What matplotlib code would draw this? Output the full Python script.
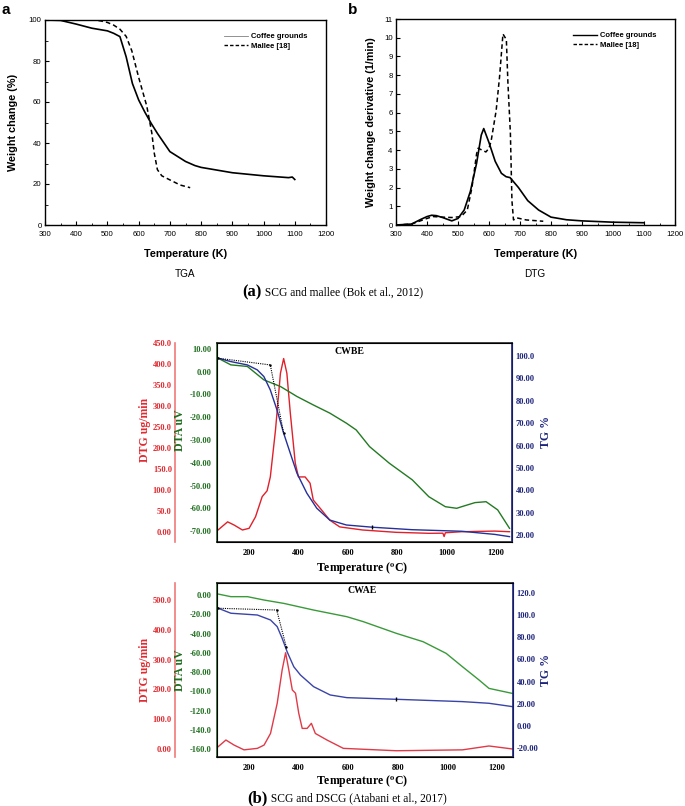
import numpy as np
import matplotlib.pyplot as plt
from matplotlib.lines import Line2D

W, H = 685, 806

# ---- (a) Bok et al. 2012 : TGA / DTG ----
tga_cg_T = [300, 350, 400, 450, 500, 520, 540, 560, 580, 600, 620, 640, 660, 700, 750, 780, 800, 900, 1000, 1080, 1092, 1100]
tga_cg_w = [100, 99.8, 98, 96, 94.7, 93.5, 91.9, 82, 69, 61, 55, 49.6, 44.7, 35.8, 31, 29, 28.1, 25.5, 24, 23.1, 23.4, 22.2]
tga_ml_T = [300, 400, 460, 480, 500, 520, 540, 560, 578, 600, 626, 642, 650, 660, 674, 700, 733, 765]
tga_ml_w = [100, 100, 100, 99.5, 98.8, 97.5, 95.5, 92, 85, 72, 58, 45, 35, 27, 24, 22, 19.5, 18.2]

dtg_cg_T = [300, 350, 380, 400, 415, 430, 450, 480, 500, 520, 540, 560, 575, 583, 600, 620, 640, 655, 668, 695, 725, 760, 800, 850, 900, 1000, 1100]
dtg_cg_d = [0, 0.05, 0.3, 0.45, 0.52, 0.5, 0.4, 0.22, 0.35, 0.8, 1.8, 3.3, 4.8, 5.15, 4.4, 3.4, 2.76, 2.58, 2.53, 2.0, 1.3, 0.8, 0.42, 0.28, 0.22, 0.15, 0.12]
dtg_ml_T = [300, 350, 400, 420, 450, 480, 510, 530, 545, 560, 565, 590, 600, 607, 623, 634, 645, 656, 661, 669, 674, 679, 690, 720, 775]
dtg_ml_d = [0, 0.05, 0.35, 0.45, 0.42, 0.4, 0.45, 0.8, 2.0, 3.8, 4.1, 3.9, 4.1, 4.5, 6.1, 7.9, 10.2, 9.9, 7.6, 4.9, 1.3, 0.27, 0.38, 0.27, 0.2]

# ---- (b) Atabani et al. 2017 : CWBE ----
cwbe_T_dtg = [75, 113, 139, 173, 200, 226, 253, 273, 286, 307, 327, 340, 353, 367, 387, 400, 427, 447, 460, 494, 527, 567, 660, 794, 928, 985, 990, 995, 1061, 1195, 1255]
cwbe_dtg = [5, 24, 16.5, 4.6, 8.6, 36, 84, 98, 131, 243, 378, 413, 378, 283, 164, 131, 131, 116, 76, 52, 28, 12, 4.6, -0.9, -3.3, -3, -11, -2, 0.5, 2, 0.5]
cwbe_T_dta = [75, 126, 193, 260, 327, 394, 460, 527, 594, 634, 688, 768, 861, 928, 995, 1041, 1061, 1115, 1160, 1207, 1255]
cwbe_dta = [5.9, 3.0, 2.3, -3.6, -6.5, -10.9, -14.6, -18.2, -22.6, -25.6, -32.9, -40.2, -47.5, -54.9, -59.3, -60.0, -59.3, -57.5, -57.1, -60.7, -68.8]
cwbe_T_tg = [75, 126, 193, 233, 260, 286, 313, 340, 367, 394, 434, 474, 527, 594, 700, 860, 1061, 1195, 1255]
cwbe_tg = [99.0, 97.5, 96, 93.8, 90.8, 84.8, 75.9, 65.5, 56.5, 47.6, 38.7, 32, 26.7, 24.5, 23.5, 22.4, 21.7, 20.3, 19.3]
cwbe_on_T = [75, 286, 340]
cwbe_on_tg = [99.0, 96, 65.5]

# ---- (b) CWAE ----
cwae_T_dtg = [75, 106, 139, 179, 233, 260, 286, 313, 333, 347, 360, 374, 387, 400, 414, 434, 451, 467, 514, 580, 794, 1061, 1168, 1262]
cwae_dtg = [7.8, 30, 13, -3, 2, 13, 52, 153, 265, 323, 265, 198, 187, 120, 69, 69, 86, 52, 30, 2, -6, -3, 10, 0]
cwae_T_dta = [75, 126, 193, 260, 340, 460, 594, 661, 794, 902, 995, 1061, 1128, 1168, 1262]
cwae_dta = [1, -1.7, -1.7, -5.2, -8.7, -15.6, -22.5, -27.7, -39.8, -48.5, -60.6, -74.5, -88.3, -97, -102.2]
cwae_T_tg = [75, 126, 233, 286, 313, 333, 353, 380, 407, 460, 527, 594, 794, 1061, 1168, 1262]
cwae_tg = [106.2, 101.7, 100.1, 95.6, 89.6, 79.1, 67.0, 53.4, 45.9, 35.4, 27.9, 25.5, 24.0, 21.9, 20.4, 17.4]
cwae_on_T = [75, 311, 350]
cwae_on_tg = [106.2, 104.6, 71]

temp_ticks = [200, 400, 600, 800, 1000, 1200]

RED, RED_SP = "#e02a30", "#f07a7a"
GREEN = "#1f6e1f"
BLUE = "#1c237a"

plt.rcParams["mathtext.fontset"] = "stix"


def box(l, t, r, b):
    return [l / W, 1 - b / H, (r - l) / W, (b - t) / H]


fig = plt.figure(figsize=(W / 100, H / 100), dpi=100)
SANS = "Liberation Sans"
SERIF = "Liberation Serif"


def style_top(ax):
    for s in ax.spines.values():
        s.set_linewidth(1.0)
    ax.tick_params(direction="in", length=3, width=0.8, labelsize=5.6, pad=2.5)
    ax.tick_params(axis="x", pad=4)
    ax.tick_params(which="minor", direction="in", length=1.8, width=0.6)
    for lab in ax.get_xticklabels() + ax.get_yticklabels():
        lab.set_family(SANS)


# TGA
axa = fig.add_axes(box(45, 20, 326, 225))
axa.plot(tga_cg_T, tga_cg_w, color="black", lw=1.2)
axa.plot(tga_ml_T, tga_ml_w, color="black", lw=1.1, dashes=(3, 2))
axa.set_xlim(300, 1200)
axa.set_ylim(0, 100)
axa.set_xticks(range(300, 1201, 100))
axa.set_xticks(range(350, 1200, 100), minor=True)
axa.set_yticks(range(0, 101, 20))
axa.set_yticks(range(10, 100, 20), minor=True)
style_top(axa)
axa.set_xlabel("Temperature (K)", family=SANS, weight="bold", fontsize=7.8, labelpad=8)
axa.set_ylabel("Weight change (%)", family=SANS, weight="bold", fontsize=7.8, labelpad=8)
ha = [Line2D([], [], color="gray", lw=0.6), Line2D([], [], color="black", lw=1.0, dashes=(2.5, 1.5))]
axa.legend(ha, ["Coffee grounds", "Mallee [18]"], frameon=False, loc="upper right",
           bbox_to_anchor=(0.96, 0.97), prop={"family": SANS, "size": 5.5, "weight": "bold"},
           handlelength=3.2, handletextpad=0.4, labelspacing=0.3)

# DTG
axb = fig.add_axes(box(396, 19, 675, 225))
axb.plot(dtg_cg_T, dtg_cg_d, color="black", lw=1.2)
axb.plot(dtg_ml_T, dtg_ml_d, color="black", lw=1.1, dashes=(3, 2))
axb.set_xlim(300, 1200)
axb.set_ylim(0, 11)
axb.set_xticks(range(300, 1201, 100))
axb.set_xticks(range(350, 1200, 100), minor=True)
axb.set_yticks(range(0, 12))
style_top(axb)
axb.set_xlabel("Temperature (K)", family=SANS, weight="bold", fontsize=7.8, labelpad=8)
axb.set_ylabel("Weight change derivative (1/min)", family=SANS, weight="bold", fontsize=7.8, labelpad=6)
hb = [Line2D([], [], color="black", lw=1.0), Line2D([], [], color="black", lw=1.0, dashes=(2.5, 1.5))]
axb.legend(hb, ["Coffee grounds", "Mallee [18]"], frameon=False, loc="upper right",
           bbox_to_anchor=(0.96, 0.97), prop={"family": SANS, "size": 5.5, "weight": "bold"},
           handlelength=3.2, handletextpad=0.4, labelspacing=0.3)

fig.text(2 / W, 1 - 10 / H, "a", family=SANS, weight="bold", fontsize=11, va="center")
fig.text(348 / W, 1 - 10 / H, "b", family=SANS, weight="bold", fontsize=11, va="center")
fig.text(185 / W, 1 - 274 / H, "TGA", family=SANS, fontsize=7.2, ha="center", va="center")
fig.text(535 / W, 1 - 274 / H, "DTG", family=SANS, fontsize=7.2, ha="center", va="center")


def caption(xc, y, tag, rest):
    fig.text(xc / W, 1 - y / H, tag, family=SERIF, weight="bold", fontsize=12,
             ha="right", va="center")
    fig.text(xc / W, 1 - y / H, " " + rest, family=SERIF, fontsize=8.3, ha="left", va="center")


caption(262, 292, "(a)", "SCG and mallee (Bok et al., 2012)")


def tri_panel(rect, T_dtg, dtg, T_dta, dta, T_tg, tg, on_T, on_tg, mark, lims, ticks, title, title_x, cols):
    ax = fig.add_axes(rect)
    ax.set_xlim(70, 1265)
    ax.set_zorder(1)
    ax.patch.set_visible(False)
    axr = ax.twinx()
    axd = ax.twinx()
    axd.set_zorder(0)
    # DTA (green, main left)
    ax.plot(T_dta, dta, color=cols[1], lw=1.0)
    ax.set_ylim(*lims[1])
    ax.set_yticks(ticks[1])
    ax.set_yticklabels([("%.2f" % v) if abs(v) < 100 else ("%.1f" % v) for v in ticks[1]])
    # TG (blue, right)
    axr.plot(T_tg, tg, color=cols[2], lw=1.0)
    axr.plot(on_T, on_tg, color="black", lw=0.8, ls=(0, (1, 1)), marker=".", ms=1.5)
    axr.plot([mark[0]], [mark[1]], color="black", marker="|", ms=3, mew=1)
    axr.set_ylim(*lims[2])
    axr.set_yticks(ticks[2])
    axr.set_yticklabels([("%.2f" % v) if abs(v) < 100 else ("%.1f" % v) for v in ticks[2]])
    # DTG (red, outer left)
    axd.plot(T_dtg, dtg, color=cols[0], lw=1.0)
    axd.set_ylim(*lims[0])
    axd.set_yticks(ticks[0])
    axd.set_yticklabels([("%.2f" % v) if v == 0 else ("%.1f" % v) for v in ticks[0]])
    axd.yaxis.set_ticks_position("left")
    axd.spines["left"].set_position(("outward", 30))
    axd.spines["left"].set_color(RED_SP)
    axd.spines["left"].set_linewidth(1.2)
    for s in ("right", "top", "bottom"):
        axd.spines[s].set_visible(False)
    axd.tick_params(axis="y", length=0, pad=2.5, labelsize=6, labelcolor=RED)

    ax.spines["left"].set_color(GREEN)
    ax.spines["left"].set_linewidth(1.2)
    axr.spines["right"].set_color(BLUE)
    axr.spines["right"].set_linewidth(1.2)
    for s in ("top", "bottom"):
        ax.spines[s].set_linewidth(1.2)
        ax.spines[s].set_color("#222222")
    ax.tick_params(axis="y", length=0, pad=4, labelsize=6, labelcolor=GREEN)
    axr.tick_params(axis="y", length=0, pad=2.5, labelsize=6, labelcolor=BLUE)
    ax.set_xticks(temp_ticks)
    ax.tick_params(axis="x", length=0, pad=5, labelsize=6)
    for a in (ax, axr, axd):
        for lab in a.get_xticklabels() + a.get_yticklabels():
            lab.set_family(SERIF)
            lab.set_weight("bold")
    ax.text(title_x, 0.955, title, transform=ax.transAxes, ha="center", va="center",
            family=SERIF, weight="bold", fontsize=7)
    return ax


p1 = box(217, 343, 512, 542)
tri_panel(p1, cwbe_T_dtg, cwbe_dtg, cwbe_T_dta, cwbe_dta, cwbe_T_tg, cwbe_tg, cwbe_on_T, cwbe_on_tg,
          (698, 23.5),
          [(-24, 450), (-74.8, 12.6), (16.9, 105.8)],
          [np.arange(0, 451, 50), np.arange(-70, 11, 10), np.arange(20, 101, 10)],
          "CWBE", 0.45, ("#e0202a", "#237a23", "#25309a"))
p2 = box(217, 583, 513, 757)
tri_panel(p2, cwae_T_dtg, cwae_dtg, cwae_T_dta, cwae_dta, cwae_T_tg, cwae_tg, cwae_on_T, cwae_on_tg,
          (794, 24.0),
          [(-27, 557), (-168.3, 12.5), (-28.1, 129)],
          [np.arange(0, 501, 100), np.arange(-160, 1, 20), np.arange(-20, 121, 20)],
          "CWAE", 0.49, ("#e03a48", "#3a9a3a", "#3a44a8"))

for (dtg_y, dta_y, tg_y, xl_y) in ((430, 430, 432, 568), (670, 670, 670, 781)):
    fig.text(145 / W, 1 - dtg_y / H, "DTG ug/min", rotation=90, color=RED, family=SERIF,
             weight="bold", fontsize=8.5, ha="center", va="center")
    fig.text(180 / W, 1 - dta_y / H, "DTA uV", rotation=90, color=GREEN, family=SERIF,
             weight="bold", fontsize=8.5, ha="center", va="center")
    fig.text(546 / W, 1 - tg_y / H, "TG %", rotation=90, color=BLUE, family=SERIF,
             weight="bold", fontsize=8.5, ha="center", va="center")
    fig.text(362 / W, 1 - xl_y / H, r"Temperature ($^{\mathbf{o}}$C)", family=SERIF,
             weight="bold", fontsize=8.5, ha="center", va="center")

caption(268, 798, "(b)", "SCG and DSCG (Atabani et al., 2017)")

fig.savefig("out.png", dpi=100)
